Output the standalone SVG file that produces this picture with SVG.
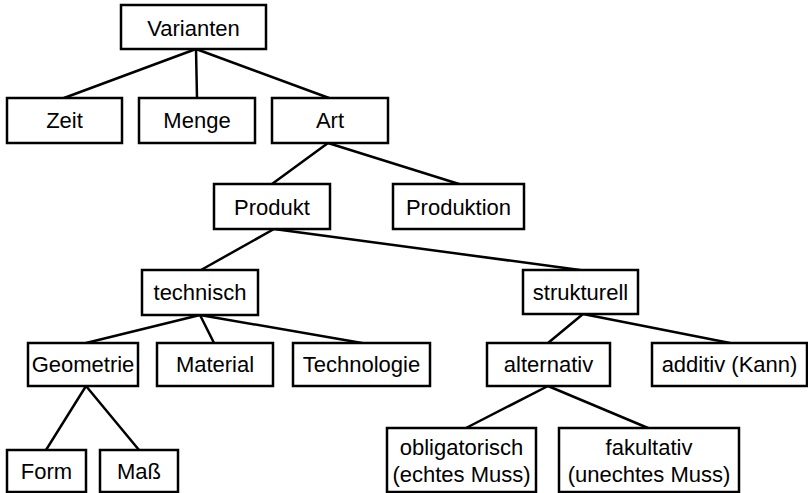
<svg xmlns="http://www.w3.org/2000/svg" width="808" height="493" viewBox="0 0 808 493">
  <style>
    .box { fill: #ffffff; stroke: #000000; stroke-width: 2.5; }
    .edge { stroke: #000000; stroke-width: 2.5; fill: none; stroke-linecap: round; }
    text { font-family: "Liberation Sans", Arial, sans-serif; font-size: 22px; fill: #000000; text-anchor: middle; }
  </style>
  <rect width="808" height="493" fill="#ffffff"/>

  <!-- connectors -->
  <g id="edges">
    <line class="edge" x1="196" y1="49" x2="64" y2="98"/>
    <line class="edge" x1="196" y1="49" x2="197" y2="98"/>
    <line class="edge" x1="196" y1="49" x2="329" y2="98"/>
    <line class="edge" x1="328" y1="143" x2="272" y2="184"/>
    <line class="edge" x1="328" y1="143" x2="459" y2="184"/>
    <line class="edge" x1="274" y1="229" x2="201" y2="270"/>
    <line class="edge" x1="274" y1="229" x2="580" y2="270"/>
    <line class="edge" x1="200" y1="315" x2="86" y2="343"/>
    <line class="edge" x1="200" y1="315" x2="214" y2="343"/>
    <line class="edge" x1="200" y1="315" x2="362" y2="343"/>
    <line class="edge" x1="86" y1="386" x2="46" y2="450"/>
    <line class="edge" x1="86" y1="386" x2="139" y2="450"/>
    <line class="edge" x1="583" y1="314" x2="548" y2="343"/>
    <line class="edge" x1="583" y1="314" x2="730" y2="343"/>
    <line class="edge" x1="548" y1="386" x2="466" y2="428"/>
    <line class="edge" x1="548" y1="386" x2="648" y2="428"/>
  </g>

  <g id="varianten">
    <rect class="box" x="121" y="5" width="145" height="44"/>
    <text x="193.5" y="36">Varianten</text>
  </g>
  <g id="zeit">
    <rect class="box" x="7" y="98" width="115" height="45"/>
    <text x="64.5" y="128">Zeit</text>
  </g>
  <g id="menge">
    <rect class="box" x="139" y="98" width="116" height="45"/>
    <text x="197" y="128">Menge</text>
  </g>
  <g id="art">
    <rect class="box" x="272" y="98" width="116" height="45"/>
    <text x="330" y="128">Art</text>
  </g>
  <g id="produkt">
    <rect class="box" x="214" y="184" width="116" height="45"/>
    <text x="272" y="215">Produkt</text>
  </g>
  <g id="produktion">
    <rect class="box" x="393" y="184" width="131" height="45"/>
    <text x="458.5" y="215">Produktion</text>
  </g>
  <g id="technisch">
    <rect class="box" x="142" y="270" width="116" height="45"/>
    <text x="200" y="300">technisch</text>
  </g>
  <g id="strukturell">
    <rect class="box" x="523" y="270" width="115" height="44"/>
    <text x="580.5" y="300">strukturell</text>
  </g>
  <g id="geometrie">
    <rect class="box" x="28" y="343" width="110" height="43"/>
    <text x="83" y="372">Geometrie</text>
  </g>
  <g id="material">
    <rect class="box" x="157" y="343" width="116" height="43"/>
    <text x="215" y="372">Material</text>
  </g>
  <g id="technologie">
    <rect class="box" x="293" y="343" width="137" height="43"/>
    <text x="361.5" y="372">Technologie</text>
  </g>
  <g id="alternativ">
    <rect class="box" x="487" y="343" width="123" height="43"/>
    <text x="548.5" y="372">alternativ</text>
  </g>
  <g id="additiv">
    <rect class="box" x="652" y="343" width="155" height="43"/>
    <text x="729.5" y="372">additiv (Kann)</text>
  </g>
  <g id="form">
    <rect class="box" x="7" y="450" width="79" height="42"/>
    <text x="46.5" y="479">Form</text>
  </g>
  <g id="mass">
    <rect class="box" x="100" y="450" width="78" height="42"/>
    <text x="139" y="479">Maß</text>
  </g>
  <g id="obligatorisch">
    <rect class="box" x="387" y="428" width="149" height="64"/>
    <text x="461.5" y="455">obligatorisch</text>
    <text x="461.5" y="482">(echtes Muss)</text>
  </g>
  <g id="fakultativ">
    <rect class="box" x="559" y="428" width="180" height="64"/>
    <text x="649" y="455">fakultativ</text>
    <text x="649" y="482">(unechtes Muss)</text>
  </g>
</svg>
